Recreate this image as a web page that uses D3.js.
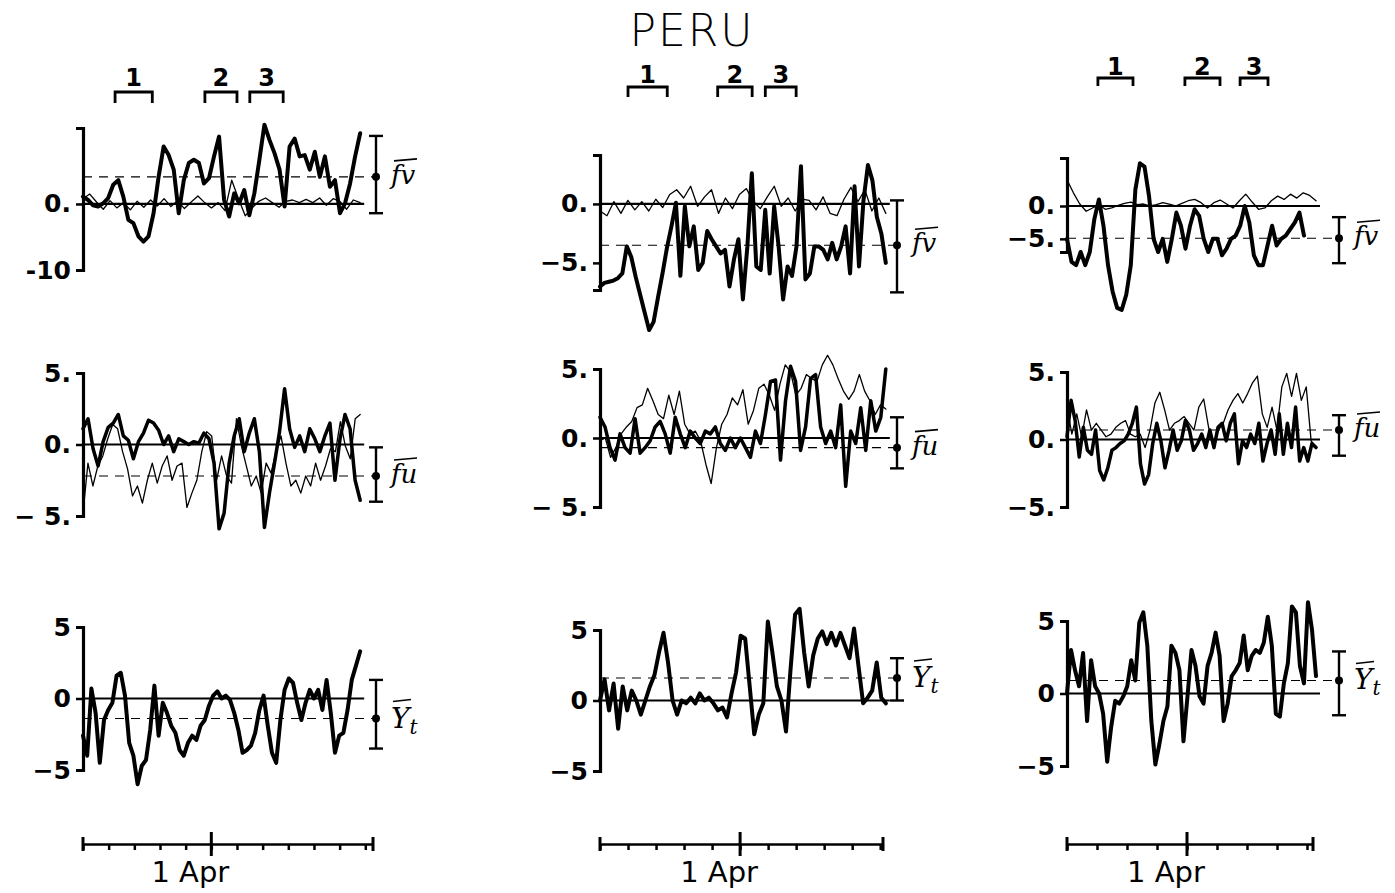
<!DOCTYPE html>
<html>
<head>
<meta charset="utf-8">
<script src="https://cdn.jsdelivr.net/npm/d3@7/dist/d3.min.js"></script>
<style>
  body { margin: 0; background: #fff; }
  svg text { font-family: "DejaVu Sans", sans-serif; fill: #000; }
</style>
</head>
<body>
<svg id="chart" width="1395" height="893"></svg>
<script>
// ---- data (values in the panel's own units, days relative to 1 Apr) ----
const title = "PERU";
const dateLabel = "1 Apr";

// row 1: f v (thick) and thin companion
const c1r1Thick = [1.1,0.6,-0.2,-0.4,0.1,0.9,2.9,3.6,1.1,-2.4,-2.9,-4.9,-5.7,-4.9,-1.4,4.1,8.7,7.4,5.2,-1.4,3.6,6.2,6.7,6.2,3.1,3.9,7.2,10.2,0.6,-1.9,1.6,0.1,2.1,-1.7,1.6,6.7,12,9.7,7.7,5.2,-0.4,8.7,9.9,7.2,7.4,5.2,7.9,4.1,7.2,2.6,3.6,-1.4,0.1,3.1,7.2,10.7];
const c1r1Thin = [0.8,1.5,0.3,-0.8,0.5,-0.6,0.2,-0.9,0.4,-0.5,0.6,-0.3,0.8,-0.4,0.5,-0.7,0.3,1.2,0.2,-0.6,0.2,-1.0,3.6,0.8,-1.8,-0.6,0.4,0.9,0.2,-0.5,0.4,0.6,0.2,0.7,0.2,0.9,-0.2,0.8,0.4,-0.8,0.6,0.2];
const c2r1Thick = [-7.0,-6.7,-6.6,-6.5,-6.3,-5.9,-3.6,-4.5,-6.2,-7.7,-9.2,-10.7,-10.0,-7.9,-5.9,-3.7,-1.9,0.1,-6.1,-0.2,-3.6,-1.9,-5.6,-5.0,-2.3,-3.0,-3.6,-4.2,-3.9,-7.0,-4.7,-3.0,-8.1,-3.6,2.6,-5.3,-5.6,-0.5,-5.9,-0.2,-3.6,-8.1,-5.3,-6.1,-3.6,3.2,-6.4,-5.9,-3.6,-3.6,-3.9,-4.7,-3.3,-4.7,-3.6,-1.9,-5.9,1.5,-5.3,0.3,3.3,2.0,-1.1,-2.5,-5.0];
const c2r1Thin = [-0.6,-1.0,0.2,-0.8,0.3,-0.5,0.2,-0.6,0.4,-0.3,0.8,1.2,0.5,1.5,-0.2,0.6,1.2,-0.8,0.5,-0.4,0.8,1.3,0.2,-0.4,0.6,1.5,-0.2,0.5,-0.6,0.4,0.3,-0.5,0.6,-0.8,-1.0,0.4,1.4,0.2,1.2,-0.6,0.5,-0.8];
const c3r1Thick = [-5.0,-8.5,-9.0,-7.0,-9.0,-7.0,-2.0,1.0,-3.0,-9.0,-13,-15.5,-15.8,-13.5,-9.0,2.5,6.5,6.0,1.5,-5.0,-7.0,-5.0,-8.5,-5.0,-1.0,-3.0,-6.5,-3.0,-0.5,-1.5,-5.0,-7.0,-5.0,-5.0,-7.5,-6.5,-5.0,-4.5,-3.0,0,-2.5,-7.5,-9.0,-9.0,-6.0,-3.0,-6.0,-5.0,-4.5,-3.5,-2.5,-1.0,-4.5];
const c3r1Thin = [4.0,2.0,0.3,-0.8,-0.3,0.2,-0.5,-0.3,0.1,0.4,0.6,0.2,0.3,0.0,0.2,0.5,0.3,0.0,0.4,0.8,1.0,0.5,-0.3,0.5,0.9,0.3,-0.3,0.8,1.8,0.6,-0.5,-0.3,0.8,1.5,1.0,1.8,1.2,2.0,1.6,0.8];

// row 2: f u (thick) and thin companion
const c1r2Thick = [1.1,1.8,-0.3,-1.5,0.2,1.2,1.5,2.1,0.6,0.3,-1.0,0.2,0.8,1.7,1.5,1.0,0.0,0.6,-0.5,0.4,0.2,0.0,0.2,0.1,0.8,0.4,-1.3,-5.9,-4.8,-1.3,0.6,1.8,-0.5,0.8,1.8,-0.5,-5.8,-3.4,-1.3,0.9,3.9,1.1,-0.2,0.6,-0.5,1.1,0.4,-0.5,0.6,1.5,-2.5,0.4,2.1,1.1,-2.5,-3.9];
const c1r2Thin = [-4.8,-1.3,-2.9,-1.5,-0.8,0.4,1.4,1.1,-0.5,-1.7,-3.6,-2.9,-4.1,-2.5,-1.3,-2.7,-1.5,-0.8,-2.5,-1.5,-1.3,-4.4,-3.4,-2.5,-0.5,0.9,0.6,-2.5,-0.8,-2.2,-2.7,1.8,-0.1,-1.5,-2.9,-2.2,-3.4,-1.3,-2.0,-0.5,0.6,-1.3,-2.9,-2.5,-3.4,-2.2,-2.9,-1.3,-2.5,-1.5,-0.3,-0.5,1.6,-0.1,-1.0,1.8,2.1];
const c2r2Thick = [1.5,0.8,-0.7,-1.6,0.3,-0.7,-1.1,1.4,-1.1,-0.7,-0.2,0.8,1.2,0.3,-1.1,1.5,0.3,-0.7,0.5,0.0,-0.4,0.5,0.3,0.8,-0.4,-0.9,0.0,-0.7,0.0,-0.7,-1.4,0.5,-0.4,1.7,4.1,4.2,-1.6,2.7,5.2,4.1,-0.9,0.8,4.3,4.6,0.8,-0.4,0.5,-0.7,2.4,-3.5,0.5,-0.4,2.2,-0.9,2.7,0.5,1.5,5.0];
const c2r2Thin = [-0.2,0.0,-1.4,-0.7,0.3,0.8,1.2,2.2,2.4,3.6,2.7,1.7,1.4,3.1,1.7,3.4,1.0,0.3,0.5,-0.2,-1.9,-3.3,-0.7,1.0,1.7,2.9,2.4,3.5,1.0,2.0,3.6,3.9,3.1,2.0,3.9,5.3,4.8,3.1,3.6,4.6,4.3,4.1,5.3,6.0,5.3,4.3,3.4,2.8,3.4,4.6,3.4,2.7,1.7,2.4,2.1];
const c3r2Thick = [0.2,2.9,1.4,-1.3,0.9,-0.8,-1.1,0.7,-2.3,-3.0,-2.1,-0.8,-0.6,-0.3,-0.1,0.4,1.2,2.4,-1.8,-3.3,-2.6,-0.3,1.2,-0.1,-2.1,-0.8,0.7,-0.8,-0.1,1.4,0.7,-0.8,-0.3,0.4,-0.6,0.7,-0.6,0.9,1.2,-0.1,1.2,1.9,-1.8,-0.1,-0.6,0.4,-0.3,1.2,-1.6,-0.3,0.7,-1.1,1.9,-1.1,1.2,-0.6,2.4,-1.6,-0.6,-1.6,-0.3,-0.6];
const c3r2Thin = [2.4,0.4,1.9,0.2,2.2,0.7,1.2,0.7,0.2,0.4,0.9,1.2,1.4,0.4,0.2,0.4,-0.6,0.7,2.7,3.5,2.2,0.7,1.2,1.4,1.7,1.2,0.7,2.4,3.0,0.9,-0.3,0.7,1.2,2.2,2.9,3.4,2.7,3.4,4.2,4.7,1.9,0.9,2.4,0.7,3.9,4.9,3.2,4.9,2.9,3.9,-0.1,-0.6];

// row 3: Y_t
const c1r3Thick = [-2.6,-4.0,0.7,-1.0,-4.5,-1.5,-0.8,-0.3,1.6,1.8,0.2,-3.1,-4.0,-6.0,-4.7,-4.3,-2.2,0.9,-2.6,-0.3,-1.0,-1.9,-2.4,-3.6,-4.0,-3.1,-2.6,-2.9,-1.9,-1.5,-0.5,0.2,0.5,0.0,0.2,-0.1,-1.0,-2.2,-3.8,-3.6,-3.3,-2.4,-0.8,0.2,-1.9,-3.8,-4.5,-1.5,0.6,1.4,1.1,-0.3,-1.5,-0.3,0.6,0.0,0.6,-0.8,1.3,-1.0,-3.8,-2.6,-2.4,-0.8,1.3,2.3,3.3];
const c2r3Thick = [0,1.5,-0.7,1.2,-2.0,1.0,-0.7,0.7,0,-1.0,0,1.0,1.8,3.4,4.8,2.7,0,-1.0,0,-0.2,0.2,-0.2,0.5,0,0.2,-0.2,-0.7,-0.5,-1.2,0.5,2.0,4.6,4.4,1.0,-2.4,-1.0,-0.2,5.6,3.4,1.0,0,-2.2,2.2,6.1,6.5,3.4,1.0,3.2,4.4,4.9,4.0,4.8,3.9,4.8,3.9,3.0,5.1,2.4,-0.2,0.2,0.7,2.7,0.2,-0.2];
const c3r3Thick = [0,3.0,1.6,0.5,2.8,-1.9,2.3,0.5,0,-1.4,-4.7,-2.3,-0.5,-0.7,-0.2,0.5,2.3,0.9,4.9,5.6,3.3,-1.9,-4.9,-3.5,-1.9,-0.9,3.3,2.8,1.6,-3.3,-0.2,3.0,1.9,-0.2,-0.7,1.9,2.8,4.2,2.6,-1.9,-0.7,1.2,1.6,2.1,4.0,1.6,2.6,3.0,2.8,3.5,5.3,3.3,-1.4,-1.6,0.7,2.1,6.0,5.6,1.9,0.7,6.3,4.4,1.2];

// mean and spread markers per column
const meanFv = [4.1, -3.5, -4.9], loFv = [-1.4, -7.5, -8.7], hiFv = [10.3, 0.3, -1.7];
const meanFu = [-2.2, -0.7, 0.7], loFu = [-4.0, -2.2, -1.2], hiFu = [-0.2, 1.5, 1.8];
const meanYt = [-1.4, 1.6, 0.9], loYt = [-3.5, 0.0, -1.5], hiYt = [1.3, 3.0, 2.9];

// tick labels
const ticksFv = [[0, -10], [0, -5], [0, -5]];
const tickLblFv = [["0.", "-10"], ["0.", "\u22125."], ["0.", "\u22125."]];
const ticksFu = [5, 0, -5];
const tickLblFu = [["5.", "0.", "\u2212 5."], ["5.", "0.", "\u2212 5."], ["5.", "0.", "\u22125."]];
const ticksYt = [5, 0, -5];
const tickLblYt = ["5", "0", "\u22125"];

// event brackets (days from 1 Apr) per column
const brkLabels = ["1", "2", "3"];
const brkDays = [
  [[-3.75, -2.3], [-0.25, 1.0], [1.5, 2.8]],
  [[-4.0, -2.6], [-0.8, 0.43], [0.9, 2.0]],
  [[-2.97, -1.8], [-0.07, 1.1], [1.77, 2.7]]
];

// ---- layout ----
const cols = [
  { dom: [-5, 6.3], rng: [83, 373], span: [-5, 5.8], errX: 376, brkTop: 92, brkDrop: 11, brkLbl: 86 },
  { dom: [-5, 5.1], rng: [600, 883], span: [-5, 5.2], errX: 897, brkTop: 87, brkDrop: 10, brkLbl: 83 },
  { dom: [-4, 4.2], rng: [1067, 1313], span: [-4, 4.3], errX: 1339, brkTop: 78, brkDrop: 8, brkLbl: 75 }
];
const timeAxisY = 844;

const panels = [
  { c: 0, yd: [-10, 11.5], yr: [270, 128], ticks: ticksFv[0], lbl: tickLblFv[0], series: [[c1r1Thin, 1.3], [c1r1Thick, 4]], m: meanFv[0], lo: loFv[0], hi: hiFv[0], name: "fv" },
  { c: 1, yd: [-7.3, 4.15], yr: [290, 155], ticks: ticksFv[1], lbl: tickLblFv[1], series: [[c2r1Thin, 1.3], [c2r1Thick, 4]], m: meanFv[1], lo: loFv[1], hi: hiFv[1], name: "fv" },
  { c: 2, yd: [-7, 7.3], yr: [252, 158], ticks: ticksFv[2], lbl: tickLblFv[2], series: [[c3r1Thin, 1.3], [c3r1Thick, 4]], m: meanFv[2], lo: loFv[2], hi: hiFv[2], name: "fv", end: 3.9 },
  { c: 0, yd: [-5, 5], yr: [516, 373], ticks: ticksFu, lbl: tickLblFu[0], series: [[c1r2Thin, 1.3], [c1r2Thick, 3.5]], m: meanFu[0], lo: loFu[0], hi: hiFu[0], name: "fu" },
  { c: 1, yd: [-5, 5], yr: [507, 369], ticks: ticksFu, lbl: tickLblFu[1], series: [[c2r2Thin, 1.3], [c2r2Thick, 3.5]], m: meanFu[1], lo: loFu[1], hi: hiFu[1], name: "fu" },
  { c: 2, yd: [-5, 5], yr: [507, 372], ticks: ticksFu, lbl: tickLblFu[2], series: [[c3r2Thin, 1.3], [c3r2Thick, 3.5]], m: meanFu[2], lo: loFu[2], hi: hiFu[2], name: "fu" },
  { c: 0, yd: [-5, 5], yr: [770, 627], ticks: ticksYt, lbl: tickLblYt, series: [[c1r3Thick, 4]], m: meanYt[0], lo: loYt[0], hi: hiYt[0], name: "Yt" },
  { c: 1, yd: [-5, 5], yr: [771, 630], ticks: ticksYt, lbl: tickLblYt, series: [[c2r3Thick, 4]], m: meanYt[1], lo: loYt[1], hi: hiYt[1], name: "Yt" },
  { c: 2, yd: [-5, 5], yr: [766, 621], ticks: ticksYt, lbl: tickLblYt, series: [[c3r3Thick, 4]], m: meanYt[2], lo: loYt[2], hi: hiYt[2], name: "Yt" }
];

const svg = d3.select("#chart");

svg.append("text")
  .attr("x", 692).attr("y", 46)
  .attr("text-anchor", "middle")
  .attr("font-size", 44)
  .attr("letter-spacing", 2)
  .style("font-weight", 300)
  .text(title);

const xScales = cols.map(c => d3.scaleLinear().domain(c.dom).range(c.rng));

// panels
panels.forEach(p => {
  const c = cols[p.c];
  const x = xScales[p.c];
  const y = d3.scaleLinear().domain(p.yd).range(p.yr);
  const g = svg.append("g");

  // zero line
  g.append("line")
    .attr("x1", c.rng[0]).attr("x2", x(c.span[1]) + 4)
    .attr("y1", y(0)).attr("y2", y(0))
    .attr("stroke", "#000").attr("stroke-width", 2.2);

  // mean dashed line
  g.append("line")
    .attr("x1", c.rng[0]).attr("x2", c.errX)
    .attr("y1", y(p.m)).attr("y2", y(p.m))
    .attr("stroke", "#000").attr("stroke-width", 1.1)
    .attr("stroke-dasharray", "9,7");

  // series
  p.series.forEach(([vals, w]) => {
    const end = (w < 2) ? c.span[1] : (p.end !== undefined ? p.end : c.span[1]);
    const xi = d3.scaleLinear().domain([0, vals.length - 1]).range([c.span[0], end]);
    g.append("path")
      .datum(vals)
      .attr("fill", "none")
      .attr("stroke", "#000")
      .attr("stroke-width", w)
      .attr("stroke-linejoin", "round")
      .attr("stroke-linecap", "round")
      .attr("d", d3.line().x((d, i) => x(xi(i))).y(d => y(d)));
  });

  // y axis
  const ax = g.append("g")
    .attr("transform", `translate(${c.rng[0]},0)`)
    .call(d3.axisLeft(y).tickValues(p.ticks).tickSize(7).tickSizeOuter(7).tickPadding(5)
      .tickFormat((d, i) => p.lbl[i]));
  ax.attr("font-size", 25).attr("font-family", "DejaVu Sans");
  ax.selectAll(".tick text").style("font-weight", "bold");
  ax.select(".domain").attr("stroke-width", 3.2);
  ax.selectAll(".tick line").attr("stroke-width", 2.5);

  // spread bar
  const eg = g.append("g").attr("stroke", "#000").attr("stroke-width", 2.4);
  eg.append("line").attr("x1", c.errX).attr("x2", c.errX).attr("y1", y(p.lo)).attr("y2", y(p.hi));
  [p.lo, p.hi].forEach(v => eg.append("line")
    .attr("x1", c.errX - 7).attr("x2", c.errX + 7).attr("y1", y(v)).attr("y2", y(v)));
  g.append("circle").attr("cx", c.errX).attr("cy", y(p.m)).attr("r", 4).attr("fill", "#000");

  // quantity label
  const lx = c.errX + 15, ly = y(p.m);
  if (p.name === "Yt") {
    const t = g.append("text").attr("x", lx).attr("y", ly + 9)
      .attr("font-size", 28).style("font-family", "DejaVu Serif").style("font-style", "italic");
    t.append("tspan").text("Y");
    t.append("tspan").attr("font-size", 20).attr("dy", 6).text("t");
    g.append("line").attr("x1", lx + 2).attr("x2", lx + 20).attr("y1", ly - 17).attr("y2", ly - 19)
      .attr("stroke", "#000").attr("stroke-width", 1.6);
  } else {
    g.append("text").attr("x", lx).attr("y", ly + 7)
      .attr("font-size", 26).style("font-family", "DejaVu Serif").style("font-style", "italic")
      .text(p.name);
    g.append("line").attr("x1", lx + 3).attr("x2", lx + 26).attr("y1", ly - 16).attr("y2", ly - 18)
      .attr("stroke", "#000").attr("stroke-width", 1.6);
  }
});

// time axes and event brackets
cols.forEach((c, ci) => {
  const x = xScales[ci];
  const g = svg.append("g").attr("transform", `translate(0,${timeAxisY})`);
  g.call(d3.axisBottom(x)
      .tickValues(d3.range(Math.ceil(c.dom[0]), Math.floor(c.dom[1]) + 1))
      .tickSize(6).tickSizeOuter(0).tickFormat(""));
  g.select(".domain").attr("stroke-width", 2.6);
  g.selectAll(".tick line").attr("stroke-width", 2.5);
  c.dom.forEach(d => g.append("line")
    .attr("x1", x(d)).attr("x2", x(d)).attr("y1", -7).attr("y2", 7)
    .attr("stroke", "#000").attr("stroke-width", 3));
  g.append("line").attr("x1", x(0)).attr("x2", x(0)).attr("y1", -12).attr("y2", 12)
    .attr("stroke", "#000").attr("stroke-width", 3);
  g.append("text").attr("x", x(0) - 21).attr("y", 38)
    .attr("font-size", 29).text(dateLabel);

  const bg = svg.append("g");
  brkDays[ci].forEach((b, i) => {
    const xa = x(b[0]), xb = x(b[1]);
    bg.append("path")
      .attr("d", `M${xa},${c.brkTop + c.brkDrop}V${c.brkTop}H${xb}V${c.brkTop + c.brkDrop}`)
      .attr("fill", "none").attr("stroke", "#000").attr("stroke-width", 2.8);
    bg.append("text").attr("x", (xa + xb) / 2).attr("y", c.brkLbl)
      .attr("text-anchor", "middle").attr("font-size", 24).style("font-weight", "bold")
      .text(brkLabels[i]);
  });
});
</script>
</body>
</html>
